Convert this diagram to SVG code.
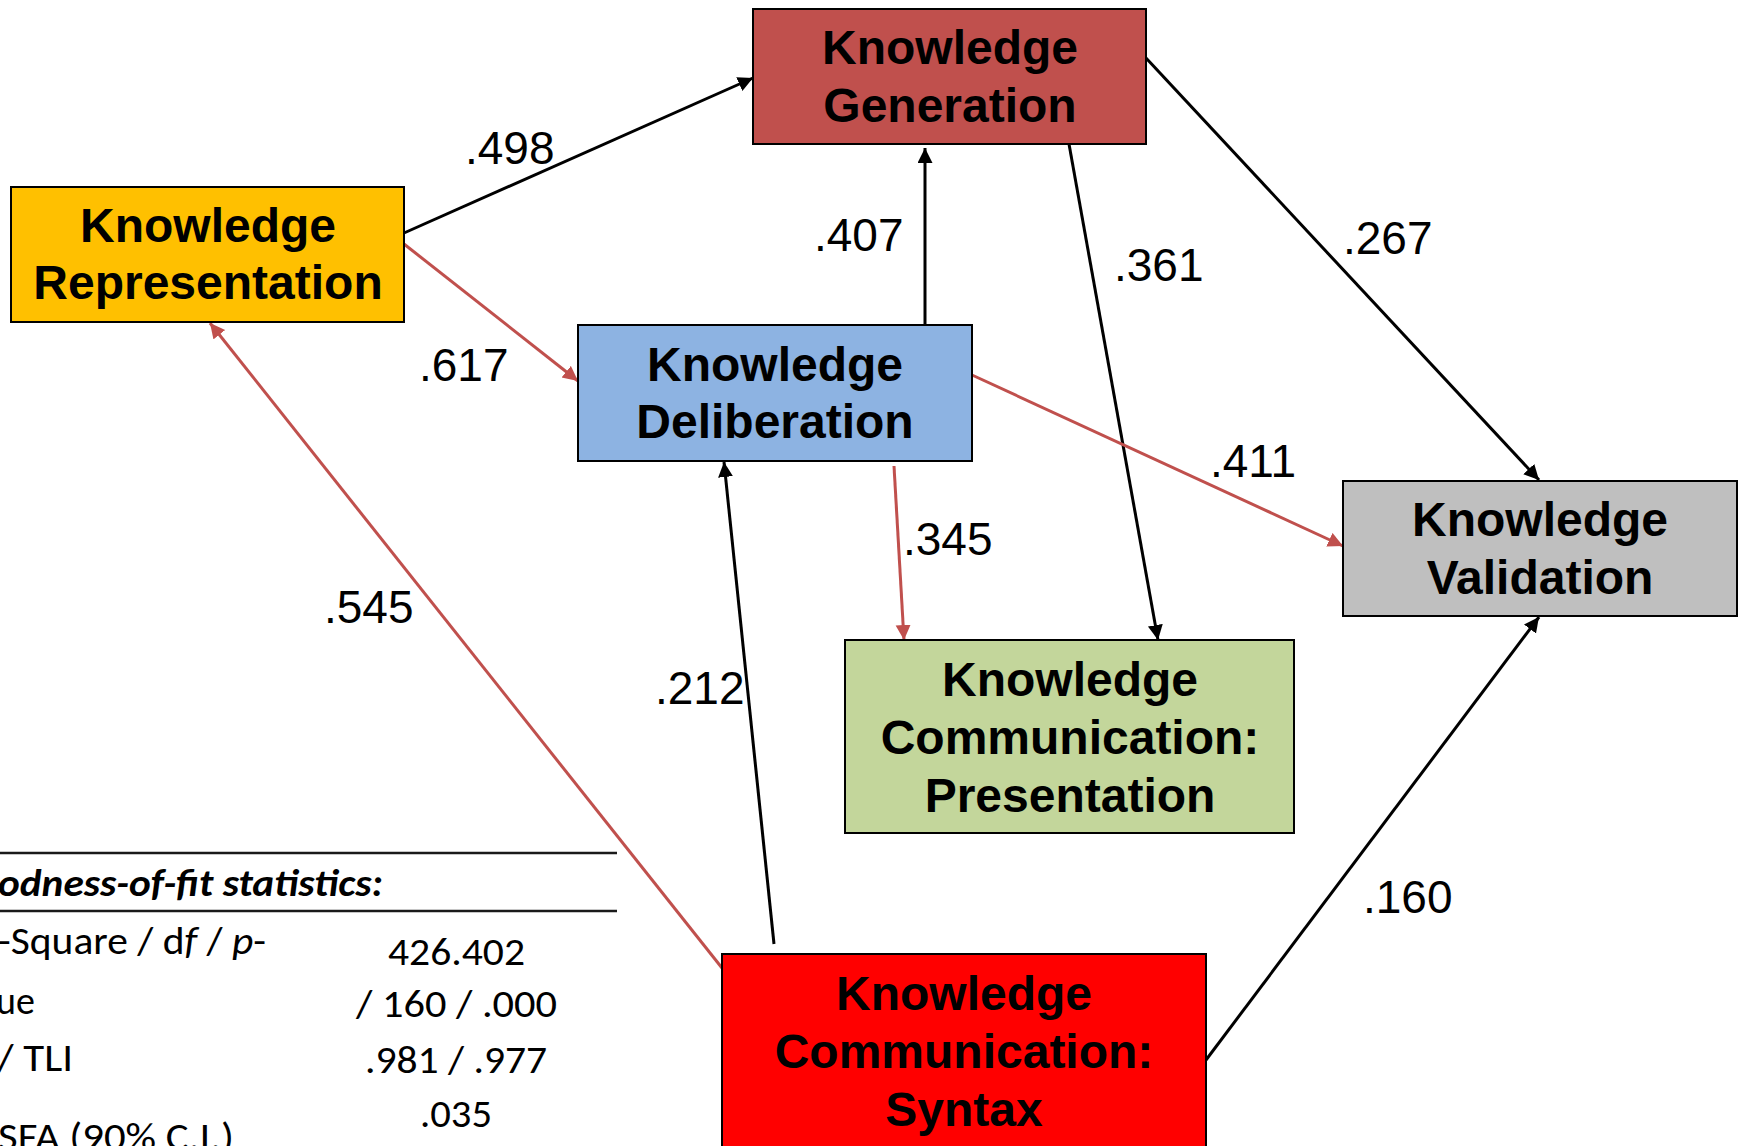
<svg xmlns="http://www.w3.org/2000/svg" width="1741" height="1146" viewBox="0 0 1741 1146">
  <style>
    .box { stroke: #000; stroke-width: 2; }
    .node-label { font-family: "Liberation Sans", Arial, sans-serif; font-weight: bold; font-size: 48px; fill: #000; text-anchor: middle; }
    .coef { font-family: "Liberation Sans", Arial, sans-serif; font-size: 46px; fill: #000; }
    .edge-black { stroke: #000; stroke-width: 3; fill: none; marker-end: url(#head-black); }
    .edge-red { stroke: #C0504D; stroke-width: 3; fill: none; marker-end: url(#head-red); }
    .fit { font-family: Carlito, "Liberation Sans", Arial, sans-serif; font-size: 38px; fill: #000; }
    .fit-head { font-family: Carlito, "Liberation Sans", Arial, sans-serif; font-size: 38px; font-weight: bold; font-style: italic; fill: #000; }
    .rule { stroke: #1a1a1a; stroke-width: 2.5; }
  </style>
  <defs>
    <marker id="head-black" markerUnits="userSpaceOnUse" markerWidth="16" markerHeight="16" refX="15" refY="7.5" orient="auto">
      <path d="M0,0 L15,7.5 L0,15 Z" fill="#000"/>
    </marker>
    <marker id="head-red" markerUnits="userSpaceOnUse" markerWidth="16" markerHeight="16" refX="15" refY="7.5" orient="auto">
      <path d="M0,0 L15,7.5 L0,15 Z" fill="#C0504D"/>
    </marker>
  </defs>

  <rect width="1741" height="1146" fill="#fff"/>

  <!-- path connectors -->
  <g id="connectors">
    <line class="edge-black" x1="404" y1="233" x2="753" y2="78"/>
    <line class="edge-red" x1="404" y1="244" x2="578" y2="381"/>
    <line class="edge-black" x1="925" y1="325" x2="925" y2="148"/>
    <line class="edge-black" x1="1069" y1="144" x2="1158" y2="640"/>
    <line class="edge-black" x1="1146" y1="58" x2="1539" y2="480"/>
    <line class="edge-red" x1="972" y1="375" x2="1343" y2="546"/>
    <line class="edge-red" x1="894" y1="466" x2="904" y2="640"/>
    <line class="edge-black" x1="774" y1="944" x2="724" y2="462"/>
    <line class="edge-red" x1="722" y1="968" x2="210" y2="323"/>
    <line class="edge-black" x1="1206" y1="1060" x2="1539" y2="617"/>
  </g>

  <!-- path coefficients -->
  <g id="coefficients">
    <text class="coef" x="465" y="164">.498</text>
    <text class="coef" x="814" y="251">.407</text>
    <text class="coef" x="1114" y="281">.361</text>
    <text class="coef" x="1343" y="254">.267</text>
    <text class="coef" x="419" y="381">.617</text>
    <text class="coef" x="1210" y="477">.411</text>
    <text class="coef" x="903" y="555">.345</text>
    <text class="coef" x="324" y="623">.545</text>
    <text class="coef" x="655" y="704">.212</text>
    <text class="coef" x="1363" y="913">.160</text>
  </g>

  <!-- nodes -->
  <g id="knowledge-generation">
    <rect class="box" x="753" y="9" width="393" height="135" fill="#C0504D"/>
    <text class="node-label" x="950" y="64">Knowledge</text>
    <text class="node-label" x="950" y="122">Generation</text>
  </g>
  <g id="knowledge-representation">
    <rect class="box" x="11" y="187" width="393" height="135" fill="#FFC000"/>
    <text class="node-label" x="208" y="242">Knowledge</text>
    <text class="node-label" x="208" y="299">Representation</text>
  </g>
  <g id="knowledge-deliberation">
    <rect class="box" x="578" y="325" width="394" height="136" fill="#8DB3E2"/>
    <text class="node-label" x="775" y="381">Knowledge</text>
    <text class="node-label" x="775" y="438">Deliberation</text>
  </g>
  <g id="knowledge-validation">
    <rect class="box" x="1343" y="481" width="394" height="135" fill="#BFBFBF"/>
    <text class="node-label" x="1540" y="536">Knowledge</text>
    <text class="node-label" x="1540" y="594">Validation</text>
  </g>
  <g id="knowledge-communication-presentation">
    <rect class="box" x="845" y="640" width="449" height="193" fill="#C3D69B"/>
    <text class="node-label" x="1070" y="696">Knowledge</text>
    <text class="node-label" x="1070" y="754">Communication:</text>
    <text class="node-label" x="1070" y="812">Presentation</text>
  </g>
  <g id="knowledge-communication-syntax">
    <rect class="box" x="722" y="954" width="484" height="210" fill="#FF0000"/>
    <text class="node-label" x="964" y="1010">Knowledge</text>
    <text class="node-label" x="964" y="1068">Communication:</text>
    <text class="node-label" x="964" y="1126">Syntax</text>
  </g>

  <!-- goodness-of-fit table -->
  <g id="fit-table">
    <line class="rule" x1="0" y1="853" x2="617" y2="853"/>
    <line class="rule" x1="0" y1="911" x2="617" y2="911"/>
    <text class="fit-head" x="-2" y="896" textLength="385" lengthAdjust="spacingAndGlyphs">odness-of-fit statistics:</text>
    <text class="fit" x="-2" y="954" textLength="268" lengthAdjust="spacingAndGlyphs">-Square / d<tspan font-style="italic">f</tspan> / <tspan font-style="italic">p</tspan>-</text>
    <text class="fit" x="-4" y="1014">ue</text>
    <text class="fit" x="-3" y="1071" textLength="76" lengthAdjust="spacingAndGlyphs">/ TLI</text>
    <text class="fit" x="-2" y="1150" textLength="236" lengthAdjust="spacingAndGlyphs">SFA (90% C.I.)</text>
    <text class="fit" x="388" y="965" textLength="137" lengthAdjust="spacingAndGlyphs">426.402</text>
    <text class="fit" x="356" y="1017" textLength="201" lengthAdjust="spacingAndGlyphs">/ 160 / .000</text>
    <text class="fit" x="365" y="1073" textLength="182" lengthAdjust="spacingAndGlyphs">.981 / .977</text>
    <text class="fit" x="420" y="1127" textLength="72" lengthAdjust="spacingAndGlyphs">.035</text>
  </g>
</svg>
